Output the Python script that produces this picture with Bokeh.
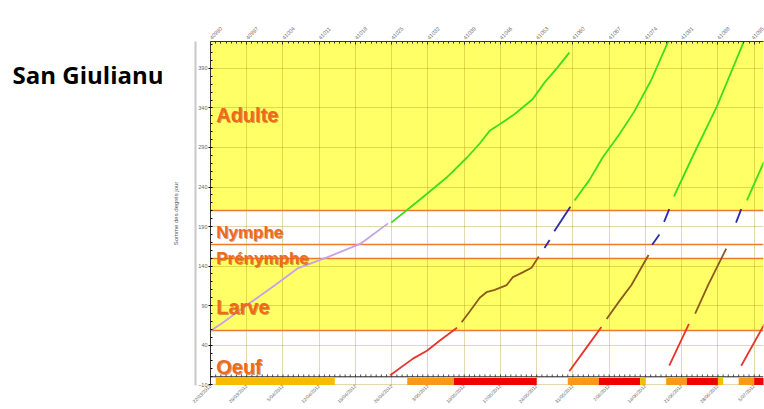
from math import pi
from bokeh.plotting import figure
from bokeh.models import FixedTicker, LinearAxis, Range1d, Span
from bokeh.core.properties import value
from bokeh.embed import file_html
from bokeh.resources import INLINE

# ---------------- data ----------------
TITLE = "San Giulianu"
Y_LABEL = "Somme des degrés jour"

# x = Excel serial day numbers (top axis) / dates (bottom axis)
week_ticks = [40990, 40997, 41004, 41011, 41018, 41025, 41032, 41039,
              41046, 41053, 41060, 41067, 41074, 41081, 41088, 41095]
week_dates = ["22/03/2012", "29/03/2012", "5/04/2012", "12/04/2012",
              "19/04/2012", "26/04/2012", "3/05/2012", "10/05/2012",
              "17/05/2012", "24/05/2012", "31/05/2012", "7/06/2012",
              "14/06/2012", "21/06/2012", "28/06/2012", "5/07/2012"]
y_ticks = [-10, 40, 90, 140, 190, 240, 290, 340, 390]

stage_names = ["Oeuf", "Larve", "Prénymphe", "Nymphe", "Adulte"]
stage_low = [0, 58, 150, 167, 210]
stage_high = [58, 150, 167, 210, 430]

# generation 1 (larva -> nymph shown in violet), then adult
g1_nymph_x = [40990.0, 40992.5, 40997.1, 41002.5, 41006.8, 41012.5, 41018.9, 41024.3]
g1_nymph_y = [58, 69, 91, 116, 137, 151, 168, 194]
g1_adult_x = [41024.9, 41027.6, 41031.0, 41035.6, 41039.5, 41042.0, 41043.9,
              41045.8, 41048.7, 41052.2, 41054.5, 41057.0, 41059.3]
g1_adult_y = [195, 209, 227, 252, 277, 295, 311, 319, 332, 351, 372, 391, 410]

# generation 2
g2_egg_x = [41024.7, 41029.1, 41031.8, 41034.3, 41037.6]
g2_egg_y = [2, 23, 33, 46, 62]
g2_larva_x = [41038.5, 41040.1, 41042.0, 41043.3, 41044.9, 41047.2, 41048.4,
              41050.3, 41052.0, 41053.4]
g2_larva_y = [69, 83, 100, 107, 110, 116, 126, 132, 138, 152]
g2_prenymph_x = [41054.5, 41055.5]
g2_prenymph_y = [163, 173]
g2_nymph_x = [41056.4, 41059.5]
g2_nymph_y = [184, 215]
g2_adult_x = [41060.3, 41063.2, 41065.7, 41069.0, 41071.8, 41075.1, 41078.6]
g2_adult_y = [223, 249, 277, 307, 335, 375, 427]

# generation 3
g3_egg_x = [41059.3, 41062.4, 41065.5]
g3_egg_y = [7, 35, 63]
g3_larva_x = [41066.5, 41069.0, 41071.3, 41074.6]
g3_larva_y = [73, 96, 116, 154]
g3_prenymph_x = [41075.3, 41076.7]
g3_prenymph_y = [167, 180]
g3_nymph_x = [41077.6, 41078.6]
g3_nymph_y = [196, 212]
g3_adult_x = [41079.5, 41083.0, 41087.8, 41093.2]
g3_adult_y = [228, 277, 342, 427]

# generation 4
g4_egg_x = [41078.6, 41082.4]
g4_egg_y = [14, 67]
g4_larva_x = [41083.6, 41086.1, 41089.6]
g4_larva_y = [80, 116, 162]
g4_nymph_x = [41091.5, 41092.5]
g4_nymph_y = [195, 212]
g4_adult_x = [41093.6, 41096.9]
g4_adult_y = [223, 272]

# generation 5
g5_egg_x = [41092.5, 41097.0]
g5_egg_y = [14, 67]

# risk bar under the chart
risk_start = [40991, 41028, 41037, 41059, 41065, 41073, 41078, 41082, 41088, 41092, 41095]
risk_end = [41014, 41037, 41053, 41065, 41073, 41074, 41082, 41088, 41089, 41095, 41097]
risk_level = ["moyen", "fort", "très fort", "fort", "très fort", "moyen",
              "fort", "très fort", "moyen", "fort", "très fort"]

# ---------------- styles ----------------
YELLOW = "#FFFF66"
BAND_FILL = {"Oeuf": "white", "Larve": YELLOW, "Prénymphe": "white",
             "Nymphe": "white", "Adulte": YELLOW}
BAND_LINE = "#EE7A2A"
STAGE_COLOR = {"violet": "#C6A2E6", "egg": "#E8342C", "larva": "#8E5A1C",
               "nymph": "#2C2CA6", "adult": "#40DC20"}
RISK_COLOR = {"moyen": "#F6BC00", "fort": "#F79A14", "très fort": "#F00000"}
LABEL_COLOR = "#EE6A1A"
GRID = "#B09020"

W, H = 764, 409
FRAME_LEFT, FRAME_TOP = 210, 41
X0, X1 = 40990, 41096.8
Y0, Y1 = -11, 424

p = figure(width=W, height=H, x_range=Range1d(X0, X1), y_range=Range1d(Y0, Y1),
           output_backend="svg", toolbar_location=None, x_axis_location="above",
           min_border_left=FRAME_LEFT, min_border_right=1, min_border_top=FRAME_TOP,
           min_border_bottom=2, outline_line_color=None,
           background_fill_color="white", border_fill_color="white")

# stage bands
bands = p.quad(left=X0, right=X1, bottom=stage_low, top=stage_high,
               fill_color=[BAND_FILL[s] for s in stage_names], line_color=None)
bands.level = "image"
p.hspan(y=stage_low[1:], line_color=BAND_LINE, line_width=1.6)

# grid
days = list(range(X0, int(X1) + 1))
p.xgrid.ticker = FixedTicker(ticks=week_ticks)
p.ygrid.ticker = FixedTicker(ticks=y_ticks)
for g in (p.xgrid[0], p.ygrid[0]):
    g.grid_line_color = GRID
    g.grid_line_alpha = 0.35
    g.grid_line_width = 1

# zero line with daily ticks
p.add_layout(Span(location=0, dimension="width", line_color="#222222", line_width=1))
p.segment(x0=days, y0=0, x1=days, y1=3, line_color="#222222", line_width=0.8)

# risk bar
p.quad(left=risk_start, right=risk_end, bottom=-10.5, top=-1.6,
       fill_color=[RISK_COLOR[r] for r in risk_level], line_color=None)

# curves
LW = 1.8
series = [
    (g1_nymph_x, g1_nymph_y, "violet"), (g1_adult_x, g1_adult_y, "adult"),
    (g2_egg_x, g2_egg_y, "egg"), (g2_larva_x, g2_larva_y, "larva"),
    (g2_prenymph_x, g2_prenymph_y, "nymph"), (g2_nymph_x, g2_nymph_y, "nymph"),
    (g2_adult_x, g2_adult_y, "adult"),
    (g3_egg_x, g3_egg_y, "egg"), (g3_larva_x, g3_larva_y, "larva"),
    (g3_prenymph_x, g3_prenymph_y, "nymph"), (g3_nymph_x, g3_nymph_y, "nymph"),
    (g3_adult_x, g3_adult_y, "adult"),
    (g4_egg_x, g4_egg_y, "egg"), (g4_larva_x, g4_larva_y, "larva"),
    (g4_nymph_x, g4_nymph_y, "nymph"), (g4_adult_x, g4_adult_y, "adult"),
    (g5_egg_x, g5_egg_y, "egg"),
]
for xs, ys, kind in series:
    p.line(xs, ys, line_color=STAGE_COLOR[kind], line_width=LW, line_join="round")

# stage labels
label_y = [12, 88, 149, 183, 331]
label_size = ["20px", "20px", "17px", "17px", "20px"]
label_x = [X0 + 1.1] * len(stage_names)
LFONT = value("Liberation Sans")
p.text(x=label_x, y=label_y, text=stage_names, text_font=LFONT, text_font_style="bold",
       text_font_size=label_size, text_color="#B0460E", text_alpha=0.55,
       x_offset=1, y_offset=1, text_baseline="alphabetic")
p.text(x=label_x, y=label_y, text=stage_names, text_font=LFONT, text_font_style="bold",
       text_font_size=label_size, text_color=LABEL_COLOR, text_baseline="alphabetic")

# top axis (serial numbers)
top = p.xaxis[0]
top.ticker = FixedTicker(ticks=week_ticks, minor_ticks=days)
top.axis_line_color = "#333333"
top.major_tick_in = 3
top.major_tick_out = 0
top.minor_tick_in = 2
top.minor_tick_out = 0
top.major_tick_line_color = "#333333"
top.minor_tick_line_color = "#333333"
top.major_label_orientation = pi / 4
top.major_label_text_font_size = "5.5px"
top.major_label_text_color = "#666666"
top.major_label_standoff = 3

# bottom axis (dates)
bottom = LinearAxis(ticker=FixedTicker(ticks=week_ticks),
                    major_label_overrides={t: d for t, d in zip(week_ticks, week_dates)})
bottom.axis_line_color = None
bottom.major_tick_in = 0
bottom.major_tick_out = 0
bottom.minor_tick_out = 0
bottom.major_label_orientation = pi / 4
bottom.major_label_text_font_size = "4.8px"
bottom.major_label_text_color = "#666666"
bottom.major_label_standoff = 0
p.add_layout(bottom, "below")

# left axes
ya = p.yaxis[0]
ya.ticker = FixedTicker(ticks=y_ticks, minor_ticks=list(range(-10, 425, 10)))
ya.axis_line_color = "#333333"
ya.major_tick_out = 2
ya.major_tick_in = 0
ya.minor_tick_in = 2
ya.minor_tick_out = 0
ya.major_label_text_font_size = "5.5px"
ya.major_label_text_color = "#666666"
ya.major_label_standoff = 1

outer = LinearAxis(ticker=FixedTicker(ticks=[]), axis_label=Y_LABEL)
outer.axis_line_color = "#C8C8C8"
outer.axis_line_width = 2
outer.major_tick_out = 0
outer.minor_tick_out = 0
outer.major_label_text_font_size = "0px"
outer.axis_label_text_font_size = "6px"
outer.axis_label_text_font_style = "normal"
outer.axis_label_text_color = "#555555"
outer.axis_label_standoff = 17
p.add_layout(outer, "left")

# site name, placed to the left of the chart as a label of a bare axis
TITLE_AT = 382
name_axis = LinearAxis(ticker=FixedTicker(ticks=[TITLE_AT]),
                       major_label_overrides={TITLE_AT: TITLE})
name_axis.axis_line_color = None
name_axis.major_tick_line_color = None
name_axis.major_tick_out = 0
name_axis.minor_tick_out = 0
name_axis.major_label_text_font = "Open Sans"
name_axis.major_label_text_font_style = "bold"
name_axis.major_label_text_font_size = "24px"
name_axis.major_label_text_color = "black"
name_axis.major_label_standoff = 6
p.add_layout(name_axis, "left")

open("out.html", "w").write(file_html(p, INLINE))
